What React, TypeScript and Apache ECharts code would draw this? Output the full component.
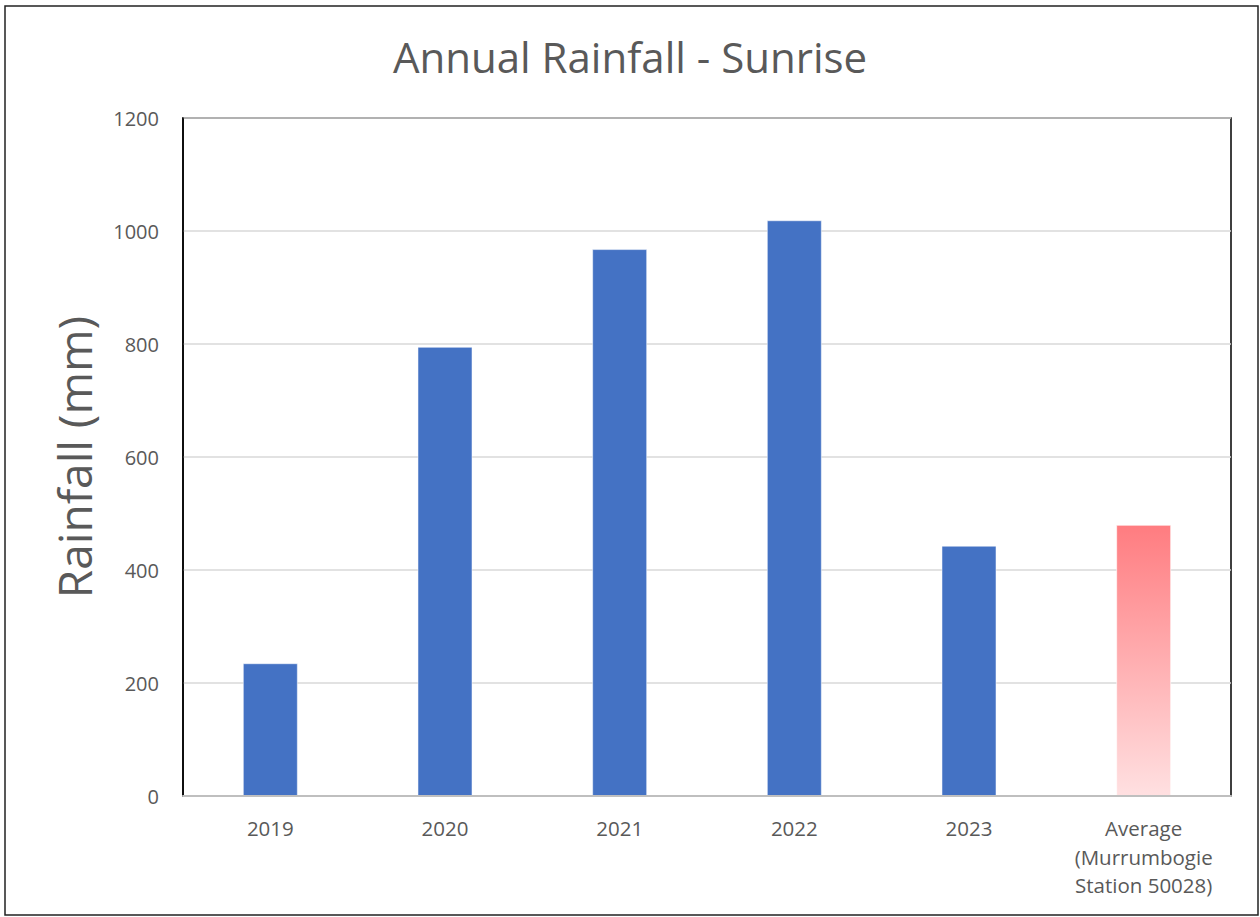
import React, { useEffect, useRef } from "react";
import * as echarts from "echarts";

const categories = ["2019", "2020", "2021", "2022", "2023", "Average\n(Murrumbogie\nStation 50028)"];
const rainfall = [235, 795, 968, 1019, 443, 480];
const yTicks = { min: 0, max: 1200, interval: 200 };

export default function App() {
  const ref = useRef<HTMLDivElement>(null);
  useEffect(() => {
    if (!ref.current) return;
    const chart = echarts.init(ref.current, null, { renderer: "svg" });
    const font = "'Open Sans', sans-serif";
    const data = rainfall.map((v, i) =>
      i === rainfall.length - 1
        ? {
            value: v,
            itemStyle: {
              color: new echarts.graphic.LinearGradient(0, 0, 0, 1, [
                { offset: 0, color: "#FF7C80" },
                { offset: 1, color: "#FFE0E1" },
              ]),
              borderColor: "rgba(255,255,255,0.6)",
              borderWidth: 1,
            },
          }
        : v
    );
    chart.setOption({
      animation: false,
      backgroundColor: "#ffffff",
      title: {
        text: "Annual Rainfall - Sunrise",
        left: "center",
        top: 30,
        textStyle: { fontFamily: font, fontSize: 42, fontWeight: "normal", color: "#595959" },
      },
      graphic: [
        {
          type: "rect",
          shape: { x: 5, y: 6, width: 1253, height: 909 },
          style: { fill: "none", stroke: "#222", lineWidth: 1.5 },
          silent: true,
        },
      ],
      grid: {
        left: 183,
        top: 118,
        right: 29,
        bottom: 121,
        show: true,
        borderColor: "#000",
        borderWidth: 1.5,
      },
      xAxis: {
        type: "category",
        data: categories,
        axisLine: { show: true, lineStyle: { color: "#BFBFBF", width: 2 } },
        axisTick: { show: false },
        axisLabel: {
          color: "#595959",
          fontFamily: font,
          fontSize: 20.5,
          lineHeight: 28.5,
          margin: 18,
          interval: 0,
        },
        z: 10,
      },
      yAxis: {
        type: "value",
        min: yTicks.min,
        max: yTicks.max,
        interval: yTicks.interval,
        name: "Rainfall (mm)",
        nameLocation: "middle",
        nameGap: 86,
        nameTextStyle: { fontFamily: font, fontSize: 46, color: "#595959" },
        axisLine: { show: true, lineStyle: { color: "#000", width: 1.5 } },
        axisTick: { show: false },
        axisLabel: {
          color: "#595959",
          fontFamily: font,
          fontSize: 20,
          margin: 24,
          formatter: (v: number) => String(v),
        },
        splitLine: { lineStyle: { color: "#D9D9D9", width: 1.5 } },
      },
      series: [
        {
          type: "bar",
          data,
          barWidth: "31.5%",
          itemStyle: { color: "#4472C4", borderColor: "rgba(255,255,255,0.5)", borderWidth: 1 },
        },
      ],
    });
    return () => chart.dispose();
  }, []);
  return (
    <div
      ref={ref}
      style={{ position: "fixed", left: 0, top: 0, width: 1260, height: 917 }}
    />
  );
}
